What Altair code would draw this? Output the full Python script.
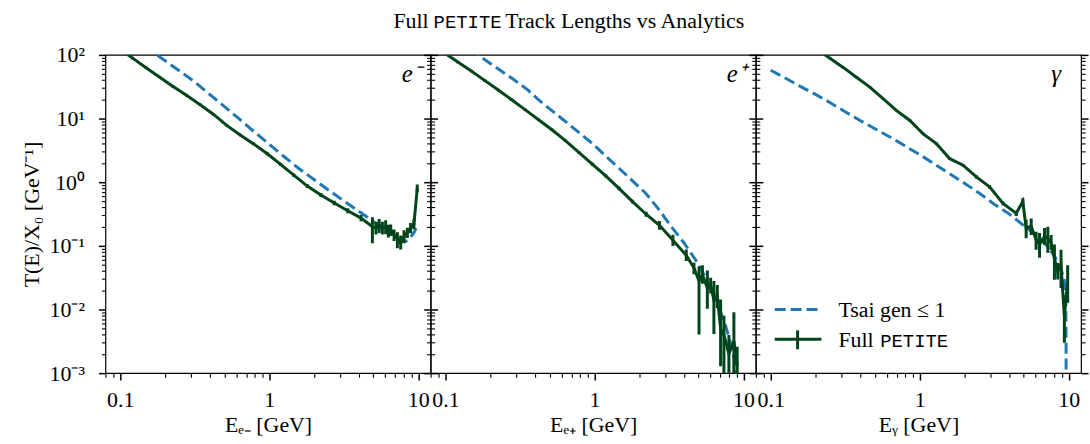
import altair as alt
import pandas as pd

BLUE = "#1f77b4"
GREEN = "#00441b"
SERIF = "'Liberation Serif', 'Times New Roman', serif"
MONO = "'Liberation Mono', 'DejaVu Sans Mono', monospace"
W, H = 327, 320

# ---------------- data ----------------
# Tsai analytic (gen <= 1)
tsai_em_E = [0.0794, 0.126, 0.178, 0.251, 0.316, 0.398, 0.501, 0.631, 0.794, 1.0, 1.259, 1.585,
             1.995, 2.512, 3.162, 3.981, 5.012, 5.623, 6.31, 7.08, 7.59, 8.13, 8.71, 9.33, 9.66]
tsai_em_T = [363, 172, 98, 55.7, 37.6, 24.0, 15.4, 9.77, 6.17, 3.93, 2.51, 1.63,
             1.10, 0.745, 0.509, 0.35, 0.24, 0.20, 0.17, 0.14, 0.12, 0.115, 0.13, 0.16, 0.19]

tsai_ep_E = [0.0794, 0.126, 0.169, 0.224, 0.284, 0.355, 0.428, 0.525, 0.646, 0.794, 0.973, 1.202,
             1.466, 1.8, 2.213, 2.692, 3.334, 3.98, 4.775, 5.57, 6.5, 7.59, 8.39, 8.83, 9.23]
tsai_ep_T = [331, 156, 96.4, 61.2, 41.7, 28.5, 19.05, 12.97, 8.77, 5.92, 4.02, 2.52,
             1.64, 1.05, 0.665, 0.377, 0.19, 0.112, 0.060, 0.0316, 0.0155, 0.0055, 0.0024, 0.00129, 0.00063]

tsai_g_E = [0.1, 0.126, 0.158, 0.2, 0.251, 0.316, 0.398, 0.501, 0.631, 0.794, 1.0, 1.259, 1.585,
            1.995, 2.512, 3.162, 3.981, 5.012, 6.31, 7.08, 7.94, 8.71, 9.33, 9.55, 9.6, 9.62]
tsai_g_T = [57.5, 43, 32, 24, 17.7, 12.8, 9.33, 6.92, 5.13, 3.73, 2.71, 1.93, 1.36,
            0.966, 0.673, 0.452, 0.318, 0.207, 0.134, 0.102, 0.072, 0.049, 0.030, 0.0126, 0.004, 0.00001]

# Full PETITE (value, error bar extent in dex below / above)
pet_em_E = [0.080, 0.098, 0.121, 0.149, 0.183, 0.226, 0.278, 0.342, 0.421, 0.518, 0.638, 0.785,
            0.966, 1.19, 1.46, 1.80, 2.22, 2.73, 3.36, 4.13,
            4.92, 5.2, 5.46, 5.74, 6.04, 6.3, 6.53, 6.88, 7.24, 7.62, 8.02, 8.44, 8.88, 9.35, 9.84]
pet_em_T = [178, 126, 89, 63, 45, 32, 23.2, 16.6, 11.7, 7.8, 5.5, 4.0,
            2.82, 1.9, 1.29, 0.87, 0.63, 0.47, 0.357, 0.273,
            0.20, 0.19, 0.21, 0.19, 0.20, 0.17, 0.18, 0.15, 0.13, 0.11, 0.14, 0.16, 0.19, 0.22, 0.80]
pet_em_dn = [0.02, 0.02, 0.02, 0.02, 0.02, 0.02, 0.02, 0.02, 0.02, 0.02, 0.02, 0.02,
             0.025, 0.025, 0.025, 0.03, 0.03, 0.035, 0.04, 0.05,
             0.26, 0.1, 0.12, 0.1, 0.12, 0.1, 0.1, 0.1, 0.15, 0.1, 0.1, 0.08, 0.08, 0.08, 0.06]
pet_em_up = [0.02, 0.02, 0.02, 0.02, 0.02, 0.02, 0.02, 0.02, 0.02, 0.02, 0.02, 0.02,
             0.025, 0.025, 0.025, 0.03, 0.03, 0.035, 0.04, 0.05,
             0.15, 0.1, 0.1, 0.1, 0.1, 0.1, 0.08, 0.08, 0.1, 0.12, 0.1, 0.08, 0.08, 0.08, 0.06]

pet_ep_E = [0.080, 0.098, 0.121, 0.149, 0.183, 0.226, 0.278, 0.342, 0.421, 0.518, 0.638, 0.785,
            0.966, 1.19, 1.46, 1.80, 2.22, 2.73, 3.36, 4.13,
            4.65, 5.03, 5.3, 5.72, 6.02, 6.33, 6.67, 7.02, 7.39, 7.98, 8.62, 9.07]
pet_ep_T = [150, 108, 77.4, 55.7, 39.8, 28.1, 19.8, 13.8, 9.6, 6.67, 4.49, 2.94,
            1.92, 1.26, 0.80, 0.495, 0.314, 0.21, 0.122, 0.071,
            0.045, 0.028, 0.035, 0.022, 0.024, 0.014, 0.016, 0.005, 0.004, 0.002, 0.0032, 0.0013]
pet_ep_dn = [0.02, 0.02, 0.02, 0.02, 0.02, 0.02, 0.02, 0.02, 0.02, 0.02, 0.02, 0.02,
             0.025, 0.025, 0.03, 0.03, 0.04, 0.07, 0.09, 0.09,
             0.1, 0.84, 0.14, 0.33, 0.13, 0.53, 0.18, 0.59, 0.7, 0.5, 0.7, 0.4]
pet_ep_up = [0.02, 0.02, 0.02, 0.02, 0.02, 0.02, 0.02, 0.02, 0.02, 0.02, 0.02, 0.02,
             0.025, 0.025, 0.03, 0.03, 0.04, 0.07, 0.09, 0.09,
             0.08, 0.23, 0.15, 0.27, 0.12, 0.3, 0.18, 0.46, 0.3, 0.3, 0.45, 0.3]

pet_g_E = [0.110, 0.135, 0.166, 0.204, 0.251, 0.308, 0.378, 0.465, 0.570, 0.700, 0.859, 1.054,
           1.294, 1.592, 1.954, 2.399, 2.944, 3.622, 4.446,
           4.92, 5.18, 5.6, 6.04, 6.37, 6.88, 7.24, 7.62, 8.02, 8.44, 8.88, 9.35, 9.84]
pet_g_T = [355, 245, 174, 123, 88, 63, 44.2, 30.9, 20.4, 13.3, 9.33, 5.75,
           4.03, 2.34, 1.85, 1.21, 0.845, 0.465, 0.324,
           0.50, 0.19, 0.204, 0.126, 0.105, 0.141, 0.132, 0.112, 0.063, 0.040, 0.050, 0.0079, 0.028]
pet_g_dn = [0.015, 0.015, 0.015, 0.015, 0.015, 0.015, 0.015, 0.015, 0.015, 0.015, 0.015, 0.02,
            0.02, 0.02, 0.02, 0.025, 0.03, 0.03, 0.04,
            0.08, 0.16, 0.14, 0.16, 0.21, 0.13, 0.23, 0.11, 0.33, 0.13, 0.36, 0.42, 0.34]
pet_g_up = [0.015, 0.015, 0.015, 0.015, 0.015, 0.015, 0.015, 0.015, 0.015, 0.015, 0.015, 0.02,
            0.02, 0.02, 0.02, 0.025, 0.03, 0.03, 0.04,
            0.05, 0.13, 0.12, 0.12, 0.18, 0.13, 0.18, 0.12, 0.22, 0.13, 0.24, 0.31, 0.25]

x_major_vals = [0.1, 1, 10]
x_minor_vals = [0.08, 0.09, 0.2, 0.3, 0.4, 0.5, 0.6, 0.7, 0.8, 0.9, 2, 3, 4, 5, 6, 7, 8, 9]
y_major_vals = [0.001, 0.01, 0.1, 1, 10, 100]
y_minor_vals = [k * d for d in [0.001, 0.01, 0.1, 1, 10] for k in range(2, 10)]

XS = alt.Scale(type="log", domain=[0.0795, 12.1], nice=False)
YS = alt.Scale(type="log", domain=[0.001, 100], nice=False)

XLAB = "datum.value < 0.5 ? '0.1' : (datum.value < 5 ? '1' : '10')"
YLAB = ("datum.value > 50 ? '10²' : datum.value > 5 ? '10¹' : datum.value > 0.5 ? '10⁰' : "
        "datum.value > 0.05 ? '10⁻¹' : datum.value > 0.005 ? '10⁻²' : '10⁻³'")


def tsai_df(E, T):
    return pd.DataFrame({"E": E, "T": T})


def pet_df(E, T, dn, up):
    df = pd.DataFrame({"E": E, "T": T, "dn": dn, "up": up})
    df["lo"] = df["T"] / 10 ** df["dn"]
    df["hi"] = df["T"] * 10 ** df["up"]
    return df


def one(text):
    return alt.Chart(pd.DataFrame({"t": [text]}))


def panel(tsai, pet, label, label_dx, xtitle, first=False, legend=False, title=False):
    x_major = alt.Axis(orient="bottom", values=x_major_vals, labelExpr=XLAB, title=xtitle,
                       tickSize=7, tickWidth=1.5, labelPadding=10, titlePadding=4,
                       labelFlush=False, labelOverlap=False)
    x_minor = alt.Axis(orient="bottom", values=x_minor_vals, labels=False, title=None,
                       tickSize=4, tickWidth=1.1)
    if first:
        y_major = alt.Axis(orient="left", values=y_major_vals, labelExpr=YLAB,
                           title="T(E)/X₀  [GeV⁻¹]", tickSize=7, tickWidth=1.5,
                           labelPadding=14, titlePadding=6, labelFlush=False, labelOverlap=False)
    else:
        y_major = alt.Axis(orient="left", values=y_major_vals, labels=False, title=None,
                           tickSize=7, tickWidth=1.5)
    y_minor = alt.Axis(orient="left", values=y_minor_vals, labels=False, title=None,
                       tickSize=4, tickWidth=1.1)
    y_major_r = alt.Axis(orient="right", values=y_major_vals, labels=False, title=None,
                         tickSize=7, tickWidth=1.5)
    y_minor_r = alt.Axis(orient="right", values=y_minor_vals, labels=False, title=None,
                         tickSize=4, tickWidth=1.1)

    blue = alt.Chart(tsai).mark_line(color=BLUE, strokeWidth=3, strokeDash=[11, 5], clip=True).encode(
        x=alt.X("E:Q", scale=XS, axis=x_major),
        y=alt.Y("T:Q", scale=YS, axis=y_major),
    )
    green = alt.Chart(pet).mark_line(color=GREEN, strokeWidth=3, clip=True).encode(
        x=alt.X("E:Q", scale=XS, axis=x_minor),
        y=alt.Y("T:Q", scale=YS, axis=y_minor),
    )
    errs = alt.Chart(pet).mark_rule(color=GREEN, strokeWidth=3, clip=True).encode(
        x=alt.X("E:Q", scale=XS, axis=None),
        y=alt.Y("lo:Q", scale=YS, axis=y_major_r),
        y2="hi:Q",
    )
    ghost = alt.Chart(pet).mark_point(opacity=0).encode(
        x=alt.X("E:Q", scale=XS, axis=None),
        y=alt.Y("T:Q", scale=YS, axis=y_minor_r),
    )
    lab = one(label).mark_text(font=SERIF, fontSize=25, fontStyle="italic", align="right",
                               baseline="alphabetic", color="black").encode(
        text="t:N", x=alt.value(W - label_dx), y=alt.value(27))
    layers = [blue, green, errs, ghost, lab]
    if legend:
        layers += [
            one("a").mark_rule(color=BLUE, strokeWidth=3, strokeDash=[11, 5]).encode(
                x=alt.value(19), x2=alt.value(66), y=alt.value(256)),
            one("b").mark_rule(color=GREEN, strokeWidth=3).encode(
                x=alt.value(19), x2=alt.value(66), y=alt.value(286)),
            one("c").mark_rule(color=GREEN, strokeWidth=3).encode(
                x=alt.value(42), y=alt.value(277), y2=alt.value(296)),
            one("Tsai gen ≤ 1").mark_text(font=SERIF, fontSize=22, align="left", baseline="middle",
                                          color="black").encode(
                text="t:N", x=alt.value(83), y=alt.value(257)),
            one("Full").mark_text(font=SERIF, fontSize=22, align="left", baseline="middle",
                                  color="black").encode(
                text="t:N", x=alt.value(83), y=alt.value(287)),
            one("PETITE").mark_text(font=MONO, fontSize=19, align="left", baseline="middle",
                                    color="black").encode(
                text="t:N", x=alt.value(125), y=alt.value(288)),
        ]
    if title:
        layers += [
            one("Full").mark_text(font=SERIF, fontSize=22, align="right", baseline="alphabetic",
                                  color="black").encode(
                text="t:N", x=alt.value(-2), y=alt.value(-27)),
            one("PETITE").mark_text(font=MONO, fontSize=19, align="left", baseline="alphabetic",
                                    color="black").encode(
                text="t:N", x=alt.value(3), y=alt.value(-27)),
            one("Track Lengths vs Analytics").mark_text(font=SERIF, fontSize=22, align="left",
                                                        baseline="alphabetic", color="black").encode(
                text="t:N", x=alt.value(75), y=alt.value(-27)),
        ]
    return alt.layer(*layers).resolve_axis(x="independent", y="independent").properties(
        width=W, height=H)


p1 = panel(tsai_df(tsai_em_E, tsai_em_T), pet_df(pet_em_E, pet_em_T, pet_em_dn, pet_em_up),
           "e⁻", 10, "Eₑ₋  [GeV]", first=True)
p2 = panel(tsai_df(tsai_ep_E, tsai_ep_T), pet_df(pet_ep_E, pet_ep_T, pet_ep_dn, pet_ep_up),
           "e⁺", 10, "Eₑ₊  [GeV]", title=True)
p3 = panel(tsai_df(tsai_g_E, tsai_g_T), pet_df(pet_g_E, pet_g_T, pet_g_dn, pet_g_up),
           "γ", 20, "Eᵧ  [GeV]", legend=True)

chart = alt.HConcatChart(hconcat=[p1, p2, p3], spacing=0, bounds="flush").properties(
    padding={"left": 19, "top": 8, "right": 0, "bottom": 0}
).configure_axis(
    grid=False, domain=False, labelFont=SERIF, titleFont=SERIF, labelFontSize=22,
    titleFontSize=22, labelColor="black", titleColor="black", tickColor="black",
    titleFontWeight="normal"
).configure_view(stroke="black", strokeWidth=1.2)

chart.save("out.html", embed_options={"renderer": "svg", "actions": False})
